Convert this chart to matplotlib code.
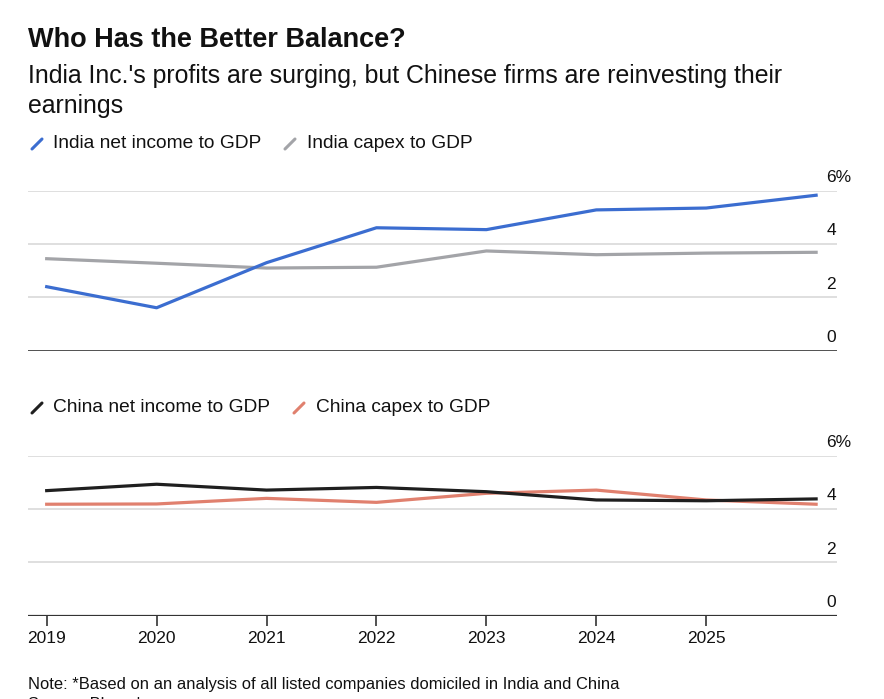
import matplotlib
matplotlib.use("Agg")
import matplotlib.pyplot as plt
from matplotlib.lines import Line2D

years = [2019, 2020, 2021, 2022, 2023, 2024, 2025, 2026]
tick_years = [2019, 2020, 2021, 2022, 2023, 2024, 2025]
india_net_income = [2.40, 1.61, 3.30, 4.61, 4.54, 5.28, 5.35, 5.83]
india_capex = [3.45, 3.28, 3.10, 3.13, 3.74, 3.60, 3.66, 3.69]
china_net_income = [4.69, 4.93, 4.71, 4.81, 4.65, 4.34, 4.31, 4.38]
china_capex = [4.18, 4.19, 4.40, 4.25, 4.59, 4.71, 4.34, 4.18]
y_ticks = [0, 2, 4, 6]
y_labels = ["0", "2", "4", "6%"]

W, H = 884, 699
FONT = "Liberation Sans"
BLUE = "#3b6dd0"
GREY = "#a3a4a8"
BLACK = "#1f1f1f"
RED = "#e0806e"
GRID = "#d6d6d6"
BASE = "#333333"
TXT = "#111111"

fig = plt.figure(figsize=(W / 100, H / 100), dpi=100)
fig.patch.set_facecolor("white")


def px_axes(left, right, top, bottom):
    return fig.add_axes([left / W, 1 - bottom / H, (right - left) / W, (bottom - top) / H])


def ftext(x, y, s, **kw):
    kw.setdefault("family", FONT)
    kw.setdefault("color", TXT)
    fig.text(x / W, 1 - y / H, s, **kw)


def slash(x, y, color):
    fig.add_artist(Line2D([(x) / W, (x + 10) / W], [1 - (y + 5) / H, 1 - (y - 5) / H],
                          transform=fig.transFigure, color=color, lw=2.2,
                          solid_capstyle="round"))


xmin = 2019 - 0.17
xmax = 2026 + 0.19


def setup(ax, show_xticks):
    ax.set_xlim(xmin, xmax)
    ax.set_ylim(0, 6)
    for s in ax.spines.values():
        s.set_visible(False)
    ax.set_yticks([])
    for v in y_ticks:
        if v == 0:
            ax.axhline(v, color=BASE, lw=1.6 if show_xticks else 1.2, zorder=3)
        else:
            ax.axhline(v, color=GRID, lw=1.1, zorder=1)
        ax.annotate(y_labels[y_ticks.index(v)], xy=(0.987, v),
                    xycoords=ax.get_yaxis_transform(), xytext=(0, 4),
                    textcoords="offset points", ha="left", va="bottom",
                    fontsize=12.5, family=FONT, color=TXT, annotation_clip=False)
    if show_xticks:
        ax.set_xticks(tick_years)
        ax.set_xticklabels([str(y) for y in tick_years], family=FONT, fontsize=12.5, color=TXT)
        ax.tick_params(axis="x", length=7, width=1.2, color=BASE, pad=4)
    else:
        ax.set_xticks([])
    ax.patch.set_alpha(0)


ax1 = px_axes(28, 837, 190.7, 350.7)
setup(ax1, False)
ax1.plot(years, india_capex, color=GREY, lw=2.3, zorder=4, solid_joinstyle="round")
ax1.plot(years, india_net_income, color=BLUE, lw=2.3, zorder=5, solid_joinstyle="round")

ax2 = px_axes(28, 837, 455.7, 615.7)
setup(ax2, True)
ax2.plot(years, china_capex, color=RED, lw=2.3, zorder=4, solid_joinstyle="round")
ax2.plot(years, china_net_income, color=BLACK, lw=2.3, zorder=5, solid_joinstyle="round")

ftext(28, 40, "Who Has the Better Balance?", fontsize=19.5, weight="bold", va="center")
ftext(28, 76, "India Inc.'s profits are surging, but Chinese firms are reinvesting their",
      fontsize=17.9, va="center")
ftext(28, 106, "earnings", fontsize=17.9, va="center")

slash(32, 144, BLUE)
ftext(53, 143, "India net income to GDP", fontsize=13.8, va="center")
slash(285, 144, GREY)
ftext(307, 143, "India capex to GDP", fontsize=13.8, va="center")

slash(32, 408, BLACK)
ftext(53, 407, "China net income to GDP", fontsize=13.8, va="center")
slash(294, 408, RED)
ftext(316, 407, "China capex to GDP", fontsize=13.8, va="center")

ftext(28, 684, "Note: *Based on an analysis of all listed companies domiciled in India and China",
      fontsize=11.85, va="center")
ftext(28, 704, "Source: Bloomberg", fontsize=11.85, va="center")

fig.savefig("out.png", dpi=100, facecolor="white")
